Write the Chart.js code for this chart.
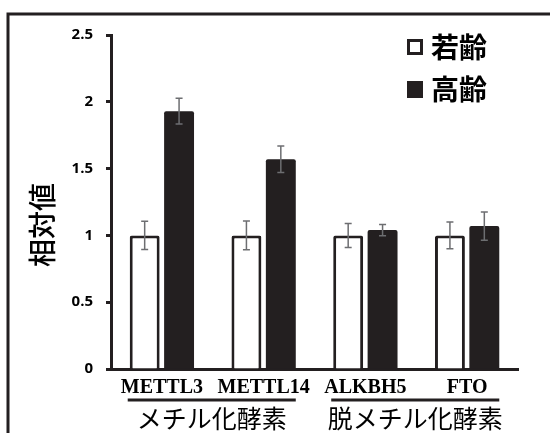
<!DOCTYPE html>
<html>
<head>
<meta charset="utf-8">
<script src="https://cdn.jsdelivr.net/npm/chart.js@4"></script>
<style>
  html, body { margin: 0; padding: 0; background: #ffffff; }
  #wrap { width: 550px; height: 433px; position: relative; }
</style>
</head>
<body>
<div id="wrap"><canvas id="c" width="550" height="433"></canvas></div>
<script>
// Relative m6A enzyme expression, young vs aged
const categories = ['METTL3', 'METTL14', 'ALKBH5', 'FTO'];
const seriesNames = ['若齢', '高齢'];
const youngValues = [1.00, 1.00, 1.00, 1.00];
const youngErrors = [0.105, 0.108, 0.09, 0.10];
const agedValues = [1.93, 1.57, 1.04, 1.07];
const agedErrors = [0.097, 0.10, 0.042, 0.106];
const yTicks = [0, 0.5, 1, 1.5, 2, 2.5];
const groupLabels = ['メチル化酵素', '脱メチル化酵素'];
const groupSpans = [[0, 1], [2, 3]];
const yTitle = '相対値';

const INK = '#231f20';
const JP = "'Noto Sans CJK JP', 'Noto Sans', sans-serif";

// page frame (top and left rules)
const framePlugin = {
  id: 'frame',
  beforeDraw(chart) {
    const ctx = chart.ctx;
    ctx.save();
    ctx.strokeStyle = INK;
    ctx.lineWidth = 3;
    ctx.beginPath();
    ctx.moveTo(8, 440);
    ctx.lineTo(8, 14);
    ctx.lineTo(560, 14);
    ctx.stroke();
    ctx.restore();
  }
};

// standard-deviation whiskers on every bar
const errorBarPlugin = {
  id: 'errorBars',
  afterDatasetsDraw(chart) {
    const ctx = chart.ctx;
    const y = chart.scales.y;
    const errs = [youngErrors, agedErrors];
    ctx.save();
    ctx.strokeStyle = '#6d6e71';
    ctx.lineWidth = 1.5;
    chart.data.datasets.forEach((ds, di) => {
      chart.getDatasetMeta(di).data.forEach((bar, i) => {
        const v = ds.data[i], e = errs[di][i];
        const yt = y.getPixelForValue(v + e);
        const yb = y.getPixelForValue(v - e);
        const x = bar.x, cap = 3.5;
        ctx.beginPath();
        ctx.moveTo(x, yt); ctx.lineTo(x, yb);
        ctx.moveTo(x - cap, yt); ctx.lineTo(x + cap, yt);
        ctx.moveTo(x - cap, yb); ctx.lineTo(x + cap, yb);
        ctx.stroke();
      });
    });
    ctx.restore();
  }
};

// enzyme group captions with rules under the gene names
const groupPlugin = {
  id: 'groups',
  afterDraw(chart) {
    const ctx = chart.ctx;
    const m0 = chart.getDatasetMeta(0).data;
    const m1 = chart.getDatasetMeta(1).data;
    ctx.save();
    groupSpans.forEach((span, gi) => {
      const a = m0[span[0]], b = m1[span[1]];
      const x0 = a.x - a.width / 2 - 2;
      const x1 = b.x + b.width / 2;
      ctx.strokeStyle = INK;
      ctx.lineWidth = 3;
      ctx.beginPath();
      ctx.moveTo(x0, 400); ctx.lineTo(x1, 400);
      ctx.stroke();
      ctx.fillStyle = '#000';
      ctx.font = '400 25px ' + JP;
      ctx.textAlign = 'center';
      ctx.textBaseline = 'middle';
      ctx.fillText(groupLabels[gi], (x0 + x1) / 2, 418);
    });
    // rotated value axis caption
    ctx.translate(42, 225);
    ctx.rotate(-Math.PI / 2);
    ctx.font = '500 28px ' + JP;
    ctx.textAlign = 'center';
    ctx.textBaseline = 'middle';
    ctx.fillStyle = '#000';
    ctx.fillText(yTitle, 0, 0);
    ctx.restore();
  }
};

// series key in the upper right corner
const keyPlugin = {
  id: 'seriesKey',
  afterDraw(chart) {
    const ctx = chart.ctx;
    ctx.save();
    ctx.font = 'bold 28px ' + JP;
    ctx.textBaseline = 'middle';
    ctx.textAlign = 'left';
    const rows = [47, 89];
    chart.data.datasets.forEach((ds, i) => {
      const cy = rows[i];
      if (i === 0) {
        ctx.strokeStyle = INK;
        ctx.lineWidth = 3;
        ctx.strokeRect(408.5, cy - 6.5, 13, 13);
      } else {
        ctx.fillStyle = INK;
        ctx.fillRect(407, cy - 8, 16, 17);
      }
      ctx.fillStyle = '#000';
      ctx.fillText(ds.label, 431, cy);
    });
    ctx.restore();
  }
};

new Chart(document.getElementById('c'), {
  type: 'bar',
  data: {
    labels: categories,
    datasets: [
      {
        label: seriesNames[0],
        data: youngValues,
        backgroundColor: '#ffffff',
        borderColor: INK,
        borderWidth: 3,
        borderRadius: 2,
        borderSkipped: 'start'
      },
      {
        label: seriesNames[1],
        data: agedValues,
        backgroundColor: INK,
        borderColor: INK,
        borderWidth: 0,
        borderRadius: 2,
        borderSkipped: 'start'
      }
    ]
  },
  options: {
    responsive: false,
    animation: false,
    devicePixelRatio: 1,
    layout: { padding: { left: 0, right: 32, top: 35, bottom: 0 } },
    datasets: { bar: { categoryPercentage: 0.676, barPercentage: 0.87 } },
    plugins: {
      legend: { display: false },
      tooltip: { enabled: false }
    },
    scales: {
      x: {
        grid: { display: false, drawTicks: false },
        border: { display: true, color: INK, width: 3 },
        ticks: {
          color: '#000',
          padding: 7,
          font: { family: "'Liberation Serif', 'Times New Roman', serif", weight: 'bold', size: 20 }
        },
        afterFit(scale) { scale.height = 64; }
      },
      y: {
        min: 0,
        max: 2.5,
        afterBuildTicks(scale) { scale.ticks = yTicks.map(v => ({ value: v })); },
        grid: {
          drawOnChartArea: false,
          drawTicks: true,
          tickLength: 5,
          tickWidth: 3,
          tickColor: INK
        },
        border: { display: true, color: INK, width: 3 },
        ticks: {
          color: '#000',
          padding: 13,
          callback: v => String(v),
          font: { family: "'Open Sans', sans-serif", weight: 'bold', size: 15 }
        },
        afterFit(scale) { scale.width = 111; }
      }
    }
  },
  plugins: [framePlugin, errorBarPlugin, groupPlugin, keyPlugin]
});
</script>
</body>
</html>
